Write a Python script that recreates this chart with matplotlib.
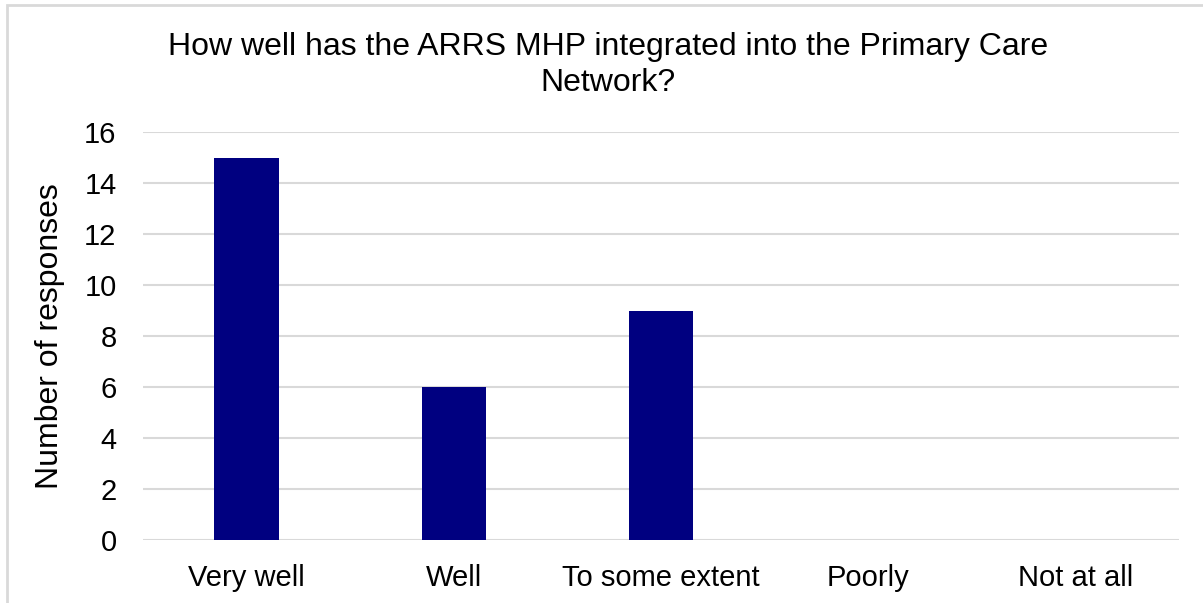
import matplotlib.pyplot as plt
from matplotlib.patches import Rectangle

# Survey responses
categories = ["Very well", "Well", "To some extent", "Poorly", "Not at all"]
responses = [15, 6, 9, 0, 0]
y_ticks = [0, 2, 4, 6, 8, 10, 12, 14, 16]

plt.rcParams['font.family'] = ['Liberation Sans', 'DejaVu Sans']

W, H = 1203, 603
fig = plt.figure(figsize=(W / 100, H / 100), dpi=100)
ax = fig.add_axes([143 / W, 1 - 540 / H, (1179 - 143) / W, (540 - 132) / H])

# Light frame round the whole chart area
fig.patches.append(Rectangle((7 / W, -0.1), 1.2, 1 - 5 / H + 0.1,
                             transform=fig.transFigure, fill=False,
                             edgecolor='#d9d9d9', linewidth=2))

x = range(len(categories))
ax.bar(x, responses, width=0.31, color='#000080', zorder=3)

ax.set_xlim(-0.5, len(categories) - 0.5)
ax.set_ylim(0, 16)
ax.set_yticks(y_ticks)
ax.set_xticks(list(x))
ax.set_xticklabels(categories)
ax.tick_params(axis='both', length=0, labelsize=21, colors='black')
ax.tick_params(axis='y', pad=19)
ax.tick_params(axis='x', pad=17)
ax.yaxis.grid(True, color='#d9d9d9', linewidth=1.5, zorder=0)
for s in ax.spines.values():
    s.set_visible(False)

ax.set_ylabel("Number of responses", fontsize=23, labelpad=14)
fig.text(608 / W, 1 - 65 / H,
         "How well has the ARRS MHP integrated into the Primary Care\nNetwork?",
         ha='center', va='center', fontsize=23, linespacing=1.27)

fig.savefig("out.png", dpi=100)
